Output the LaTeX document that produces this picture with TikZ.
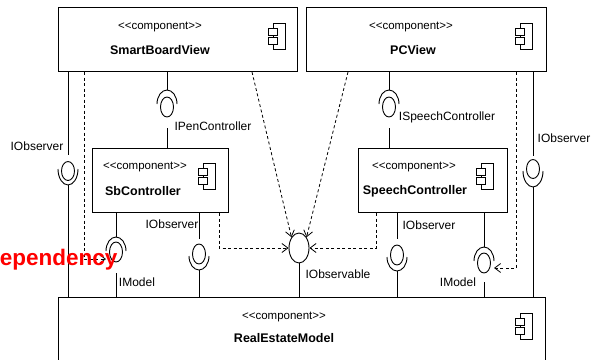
\documentclass[tikz,border=0pt]{standalone}
\usepackage{fontspec}
\setmainfont{Liberation Sans}
\usetikzlibrary{shapes.geometric,arrows.meta}
\tikzset{
  box/.style={draw, line width=1pt, fill=white, inner sep=0pt, anchor=north west},
  ball/.style={draw, ellipse, minimum width=13pt, minimum height=19pt, inner sep=0pt, line width=0.9pt},
  wire/.style={line width=0.9pt},
  dep/.style={line width=0.8pt, dash pattern=on 3pt off 2.5pt, -{Straight Barb[length=6pt,width=9pt]}},
  stereo/.style={font=\fontsize{11.5}{12}\selectfont, inner sep=0pt},
  cname/.style={font=\fontsize{12.5}{13}\selectfont\bfseries, inner sep=0pt},
  lbl/.style={font=\fontsize{12}{13}\selectfont, inner sep=0pt},
  compicon/.pic={
    \draw[line width=0.9pt] (-6,-13) rectangle (6,13);
    \draw[line width=0.9pt, fill=white] (-11,1) rectangle (-2,8);
    \draw[line width=0.9pt, fill=white] (-11,-8) rectangle (-2,-1);
  }
}
\begin{document}
\begin{tikzpicture}[x=1pt,y=1pt]
\useasboundingbox (0,0) rectangle (592,-359);
% boxes
\node[box, minimum width=239pt, minimum height=64pt] (sbv) at (58,-7) {};
\node[box, minimum width=240pt, minimum height=64pt] (pcv) at (306,-7) {};
\node[box, minimum width=136pt, minimum height=64pt] (sbc) at (92,-148) {};
\node[box, minimum width=149pt, minimum height=64pt] (spc) at (358,-148) {};
\node[box, minimum width=487pt, minimum height=80pt] (rem) at (58,-297) {};
% box texts
\node[stereo] (sbvst) at (160,-27) {{<}{<}component{>}{>}};
\node[cname] (sbvnm) at (160,-50) {SmartBoardView};
\node[stereo] (pcvst) at (411,-27) {{<}{<}component{>}{>}};
\node[cname] (pcvnm) at (413,-50) {PCView};
\node[stereo] (sbcst) at (145,-167) {{<}{<}component{>}{>}};
\node[cname] (sbcnm) at (143,-191) {SbController};
\node[stereo] (spcst) at (414,-167) {{<}{<}component{>}{>}};
\node[cname] (spcnm) at (415,-191) {SpeechController};
\node[stereo] (remst) at (284,-317) {{<}{<}component{>}{>}};
\node[cname] (remnm) at (284,-338) {RealEstateModel};
\pic at (279,-36) {compicon};
\pic at (526,-36) {compicon};
\pic at (209,-176) {compicon};
\pic at (487,-176) {compicon};
\pic at (526,-326) {compicon};
% left IObserver
\node[ball] (bL) at (68,-171) {};
\coordinate (sL) at (68,-169);
\draw[wire] (bL |- sbv.south) -- ++(0,-83);
\draw[wire] ([xshift=-10pt]sL) arc[start angle=180, end angle=360, x radius=10, y radius=16];
\draw[wire] ([yshift=-16pt]sL) -- (sL |- rem.north);
\node[lbl] (lL) at (37,-146) {IObserver};
% IPenController
\node[ball, minimum height=20pt] (bP) at (167,-107) {};
\coordinate (sP) at (167,-104);
\draw[wire] (bP |- sbv.south) -- ([yshift=14pt]sP);
\draw[wire] ([xshift=-10pt]sP) arc[start angle=180, end angle=0, x radius=10, y radius=14];
\draw[wire] (bP |- sbc.north) -- ++(0,20);
\node[lbl] (lP) at (213,-126) {IPenController};
% ISpeechController
\node[ball, minimum height=20pt] (bS) at (389,-107) {};
\coordinate (sS) at (389,-104);
\draw[wire] (bS |- pcv.south) -- ([yshift=14pt]sS);
\draw[wire] ([xshift=-10pt]sS) arc[start angle=180, end angle=0, x radius=10, y radius=14];
\draw[wire] (bS |- spc.north) -- ++(0,20);
\node[lbl] (lS) at (447,-117) {ISpeechController};
% right IObserver
\node[ball] (bR) at (533,-169) {};
\coordinate (sR) at (533,-171);
\draw[wire] (bR |- pcv.south) -- ++(0,-84);
\draw[wire] ([xshift=-10pt]sR) arc[start angle=180, end angle=360, x radius=10, y radius=16];
\draw[wire] ([yshift=-16pt]sR) -- (sR |- rem.north);
\node[lbl] (lR) at (564,-138) {IObserver};
% IModel left
\node[ball, minimum height=20pt] (bML) at (116,-252) {};
\coordinate (sML) at (116,-251);
\draw[wire] (bML |- sbc.south) -- ([yshift=14pt]sML);
\draw[wire] ([xshift=-10pt]sML) arc[start angle=180, end angle=0, x radius=10, y radius=14];
\draw[wire] (bML |- rem.north) -- ++(0,24);
\node[lbl] (lML) at (137,-282) {IModel};
% IObserver mid-left
\node[ball, minimum height=20pt] (bOL) at (199,-254) {};
\coordinate (sOL) at (199,-256);
\draw[wire] (bOL |- sbc.south) -- ++(0,-26);
\draw[wire] ([xshift=-10pt]sOL) arc[start angle=180, end angle=360, x radius=10, y radius=14];
\draw[wire] ([yshift=-14pt]sOL) -- (sOL |- rem.north);
\node[lbl] (lOL) at (172,-224) {IObserver};
% IObservable
\node[ball, minimum width=20pt, minimum height=30pt] (bO) at (299,-248) {};
\draw[wire] (bO.south) -- (bO |- rem.north);
\node[lbl] (lO) at (338,-274) {IObservable};
% IObserver mid-right
\node[ball, minimum height=20pt] (bOR) at (397,-255) {};
\coordinate (sOR) at (397,-257);
\draw[wire] (bOR |- spc.south) -- ++(0,-26);
\draw[wire] ([xshift=-10pt]sOR) arc[start angle=180, end angle=360, x radius=10, y radius=14];
\draw[wire] ([yshift=-14pt]sOR) -- (sOR |- rem.north);
\node[lbl] (lOR) at (429,-225) {IObserver};
% IModel right
\node[ball, minimum height=20pt] (bMR) at (484,-263) {};
\coordinate (sMR) at (484,-261);
\draw[wire] (bMR |- spc.south) -- ([yshift=14pt]sMR);
\draw[wire] ([xshift=-10pt]sMR) arc[start angle=180, end angle=0, x radius=10, y radius=14];
\draw[wire] (bMR |- rem.north) -- ++(0,15);
\node[lbl] (lMR) at (458,-282) {IModel};
% dependencies
\draw[dep] ([xshift=26pt]sbv.south west) |- ([xshift=-10pt,yshift=-8pt]sML);
\draw[dep] ([xshift=194pt]sbv.south west) -- (bO.125);
\draw[dep] ([xshift=42pt]pcv.south west) -- (bO.55);
\draw[dep] ([xshift=127pt]sbc.south west) |- (bO.west);
\draw[dep] ([xshift=18pt]spc.south west) |- (bO.east);
\draw[dep] ([xshift=210pt]pcv.south west) |- ([xshift=10pt,yshift=-7pt]sMR);
% red label (cut off at the left edge, as in the reference)
\node[font=\fontsize{22.5}{24}\selectfont\bfseries, text=red, anchor=base west, inner sep=0pt] (deplbl) at (-16.5,-265) {Dependency};
\end{tikzpicture}
\end{document}
